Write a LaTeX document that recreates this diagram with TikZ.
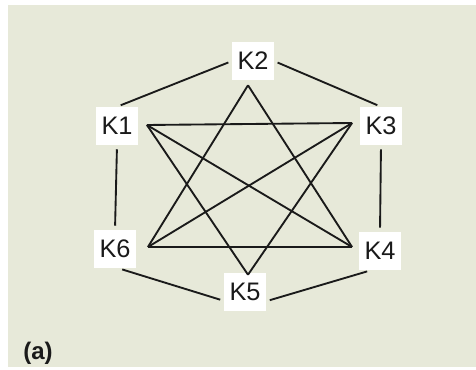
\documentclass[tikz,border=0pt]{standalone}
\usepackage{fontspec}
\setmainfont{Liberation Sans}
\usepackage{tikz}
\usetikzlibrary{calc}
\usepackage{xcolor}
\definecolor{paper}{HTML}{E7E9D9}
\definecolor{ink}{HTML}{1A1A1A}
\tikzset{
  keybox/.style={fill=white, inner sep=0pt, minimum width=31pt, minimum height=28.5pt, text=ink, font=\fontsize{19}{21}\selectfont},
  link/.style={draw=ink, line width=1.4pt},
  ring/.style={link, shorten <=3pt, shorten >=3pt}
}

\begin{document}
\begin{tikzpicture}[x=0.75pt, y=-0.75pt]
  \useasboundingbox (0,0) rectangle (476,370);
  \fill[paper] (8,5) rectangle (476,367);
  \node[keybox] (k2) at (253,61) {K2};
  \node[keybox] (k1) at (117,126) {K1};
  \node[keybox] (k3) at (381,126) {K3};
  \node[keybox] (k6) at (115,249) {K6};
  \node[keybox] (k4) at (380,251) {K4};
  \node[keybox] (k5) at (245,292) {K5};
  \node[font=\fontsize{18}{20}\selectfont\bfseries, text=ink] (lbl) at (38,353) {(a)};
  % outer ring
  \draw[ring] (k1.north) -- (k2.west);
  \draw[ring] (k2.east) -- (k3.north);
  \draw[ring] (k1.south) -- (k6.north);
  \draw[ring] (k3.south) -- (k4.north);
  \draw[ring] (k6.-80) -- (k5.203);
  \draw[ring] (k5.-24) -- (k4.-115);
  % star points
  \coordinate (a2) at ($(k2.south)+(-5,5)$);
  \coordinate (a1) at ($(k1.east)+(9,-1)$);
  \coordinate (a3) at ($(k3.west)+(-8,-3)$);
  \coordinate (a6) at ($(k6.east)+(12,-2)$);
  \coordinate (a4) at ($(k4.west)+(-7,-4)$);
  \coordinate (a5) at ($(k5.north)+(3,2)$);
  \draw[link] (a1) -- (a3);
  \draw[link] (a6) -- (a4);
  \draw[link] (a1) -- (a4);
  \draw[link] (a6) -- (a3);
  \draw[link] (a2) -- (a6);
  \draw[link] (a2) -- (a4);
  \draw[link] (a5) -- (a1);
  \draw[link] (a5) -- (a3);
\end{tikzpicture}
\end{document}
